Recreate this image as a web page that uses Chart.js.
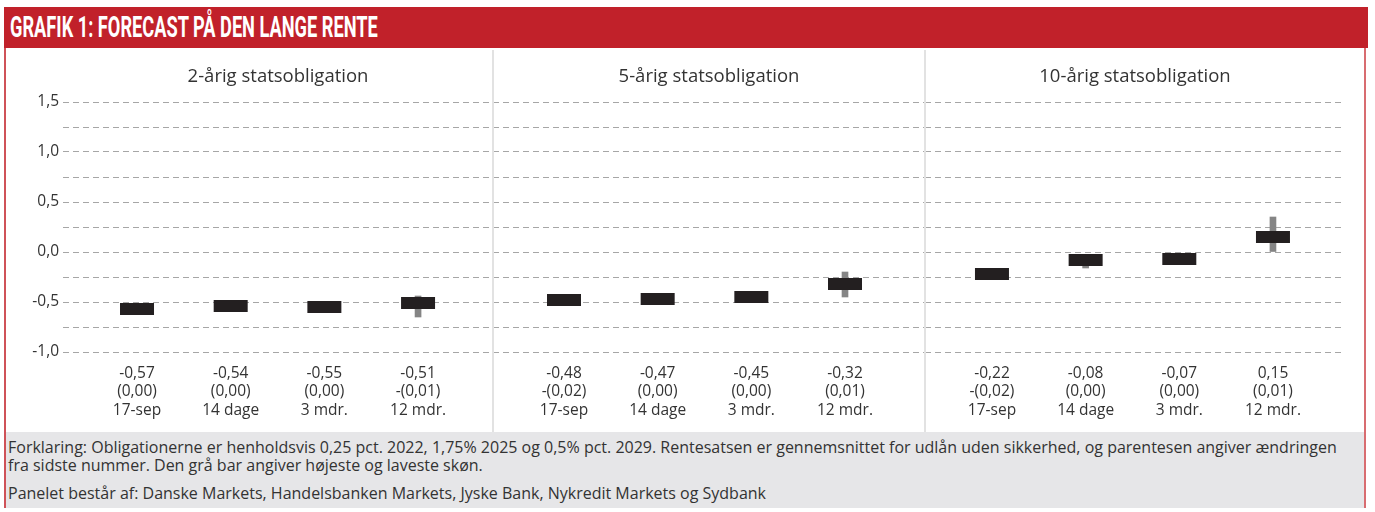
<!DOCTYPE html>
<html>

<head>
  <meta charset="utf-8">
  <title>Grafik 1: Forecast på den lange rente</title>
  <style>
    body { margin: 0; background: #fff; width: 1375px; height: 512px; position: relative; overflow: hidden; font-family: "Open Sans", sans-serif; color: #333; }
    .abs { position: absolute; }
    #header { left: 4px; top: 7px; width: 1364px; height: 41px; background: #c1212a; }
    #header h1 { display: inline-block; margin: 0 0 0 6px; color: #fff; font-family: Roboto, "DejaVu Sans", sans-serif; font-weight: bold; font-size: 29px; line-height: 41px; white-space: nowrap; transform-origin: left center; }
    .border { width: 2px; top: 48px; height: 460px; background: #cf5258; }
    .sep { width: 2px; top: 50px; height: 382px; background: #e2e2e2; }
    #footer { left: 6px; top: 432px; width: 1358px; height: 76px; background: #e6e6e8; font-size: 16px; line-height: 18px; }
    #footer p { margin: 0; padding-left: 2px; white-space: nowrap; }
  </style>
</head>

<body>
  <div id="header" class="abs"><h1>GRAFIK 1: FORECAST PÅ DEN LANGE RENTE</h1></div>

  <canvas id="panel1" class="abs" style="left:5px; top:48px;" width="488" height="384"></canvas>
  <canvas id="panel2" class="abs" style="left:493px; top:48px;" width="432" height="384"></canvas>
  <canvas id="panel3" class="abs" style="left:925px; top:48px;" width="420" height="384"></canvas>

  <div class="abs sep" style="left:492px;"></div>
  <div class="abs sep" style="left:924px;"></div>

  <div id="footer" class="abs">
    <p style="padding-top:6px;">Forklaring: Obligationerne er henholdsvis 0,25 pct. 2022, 1,75% 2025 og 0,5% pct. 2029. Rentesatsen er gennemsnittet for udlån uden sikkerhed, og parentesen angiver ændringen<br>fra sidste nummer. Den grå bar angiver højeste og laveste skøn.</p>
    <p style="margin-top:10px;">Panelet består af: Danske Markets, Handelsbanken Markets, Jyske Bank, Nykredit Markets og Sydbank</p>
  </div>

  <div class="abs border" style="left:4px;"></div>
  <div class="abs border" style="left:1364px; background:#d86c70;"></div>

  <script src="https://cdn.jsdelivr.net/npm/chart.js"></script>
  <script>
    // data
    const perioder = ['17-sep', '14 dage', '3 mdr.', '12 mdr.'];

    const rente2 = [-0.57, -0.54, -0.55, -0.51];
    const aendring2 = ['(0,00)', '(0,00)', '(0,00)', '-(0,01)'];
    const lav2 = [null, -0.57, -0.58, -0.65];
    const hoej2 = [null, -0.51, -0.52, -0.44];

    const rente5 = [-0.48, -0.47, -0.45, -0.32];
    const aendring5 = ['-(0,02)', '(0,00)', '(0,00)', '(0,01)'];
    const lav5 = [null, -0.50, -0.48, -0.45];
    const hoej5 = [null, -0.44, -0.42, -0.20];

    const rente10 = [-0.22, -0.08, -0.07, 0.15];
    const aendring10 = ['-(0,02)', '(0,00)', '(0,00)', '(0,01)'];
    const lav10 = [null, -0.16, -0.10, 0.00];
    const hoej10 = [null, -0.04, -0.04, 0.35];

    const yTicks = [-1.0, -0.5, 0.0, 0.5, 1.0, 1.5];

    // smal overskrift: klem teksten til samme bredde som originalen
    const h1 = document.querySelector('#header h1');
    h1.style.transform = 'scaleX(' + (368 / h1.offsetWidth) + ')';

    Chart.defaults.font.family = '"Open Sans", sans-serif';
    Chart.defaults.color = '#333';

    const komma = (v) => v.toFixed(2).replace('.', ',');

    // titel over hvert panel, centreret over plotområdet
    const panelTitel = {
      id: 'panelTitel',
      afterDraw(chart, args, opts) {
        const ctx = chart.ctx;
        const area = chart.chartArea;
        ctx.save();
        ctx.font = '18.5px "Open Sans"';
        ctx.fillStyle = '#333';
        ctx.textAlign = 'center';
        ctx.textBaseline = 'middle';
        ctx.fillText(opts.text, (area.left + area.right) / 2, 29);
        ctx.restore();
      }
    };

    function panelConfig(titel, rente, aendring, lav, hoej, xMin, xMax, visY) {
      return {
        type: 'bar',
        data: {
          datasets: [{
            type: 'line',
            data: rente.map((v, i) => ({ x: i, y: v })),
            showLine: false,
            pointStyle: 'line',
            pointRadius: 17,
            pointHoverRadius: 17,
            pointBorderWidth: 12,
            pointHoverBorderWidth: 12,
            pointBorderColor: '#231f20',
            borderColor: '#231f20',
            order: 0
          }, {
            data: lav.map((v, i) => ({ x: i, y: v === null ? null : [v, hoej[i]] })),
            backgroundColor: '#858585',
            barThickness: 6,
            grouped: false,
            order: 1
          }]
        },
        options: {
          responsive: false,
          maintainAspectRatio: false,
          animation: false,
          layout: { padding: { top: 54, right: 0, bottom: 0, left: 0 } },
          plugins: {
            legend: { display: false },
            tooltip: { enabled: false },
            panelTitel: { text: titel }
          },
          scales: {
            x: {
              type: 'linear',
              offset: false,
              min: xMin,
              max: xMax,
              grid: { display: false },
              border: { display: false },
              afterBuildTicks: (axis) => { axis.ticks = perioder.map((p, i) => ({ value: i })); },
              afterFit: (axis) => { axis.height = 80; },
              ticks: {
                autoSkip: false,
                maxRotation: 0,
                padding: 4,
                font: { size: 15.5, lineHeight: 1.2 },
                color: '#333',
                callback: (v, i) => [komma(rente[i]), aendring[i], perioder[i]]
              }
            },
            y: {
              min: -1.0,
              max: 1.5,
              grid: { color: '#a6a6a6', lineWidth: 1, drawTicks: false },
              border: { display: false, dash: [6, 4] },
              afterFit: (axis) => { axis.width = visY ? 58 : 0; },
              ticks: {
                display: visY,
                stepSize: 0.25,
                padding: 4,
                font: { size: 15.5 },
                color: '#333',
                callback: (v) => yTicks.some((t) => Math.abs(t - v) < 1e-6) ? komma(v).slice(0, -1) : ''
              }
            }
          }
        },
        plugins: [panelTitel]
      };
    }

    // tegn panelet, mål plotområdet og flyt/udvid lærredet så plotområdet
    // ligger mellem venstre og hoejre (sidekoordinater)
    function lavPanel(id, venstre, hoejre, ...args) {
      const canvas = document.getElementById(id);
      let chart = new Chart(canvas, panelConfig(...args));
      const left = parseFloat(canvas.style.left);
      const w = canvas.width, h = canvas.height;
      const d = venstre - (left + chart.chartArea.left);
      const e = hoejre - (left + d + chart.chartArea.right);
      chart.destroy();
      if (Math.abs(d) < 0.5 && Math.abs(e) < 0.5) {
        new Chart(canvas, panelConfig(...args));
        return;
      }
      canvas.style.left = (left + d) + 'px';
      canvas.width = w + e;
      canvas.height = h;
      canvas.style.width = (w + e) + 'px';
      canvas.style.height = h + 'px';
      new Chart(canvas, panelConfig(...args));
    }

    lavPanel('panel1', 63, 493, '2-årig statsobligation', rente2, aendring2, lav2, hoej2, -0.79, 3.80, true);
    lavPanel('panel2', 493, 925, '5-årig statsobligation', rente5, aendring5, lav5, hoej5, -0.758, 3.854, false);
    lavPanel('panel3', 925, 1345, '10-årig statsobligation', rente10, aendring10, lav10, hoej10, -0.715, 3.769, false);
  </script>
</body>
</html>
